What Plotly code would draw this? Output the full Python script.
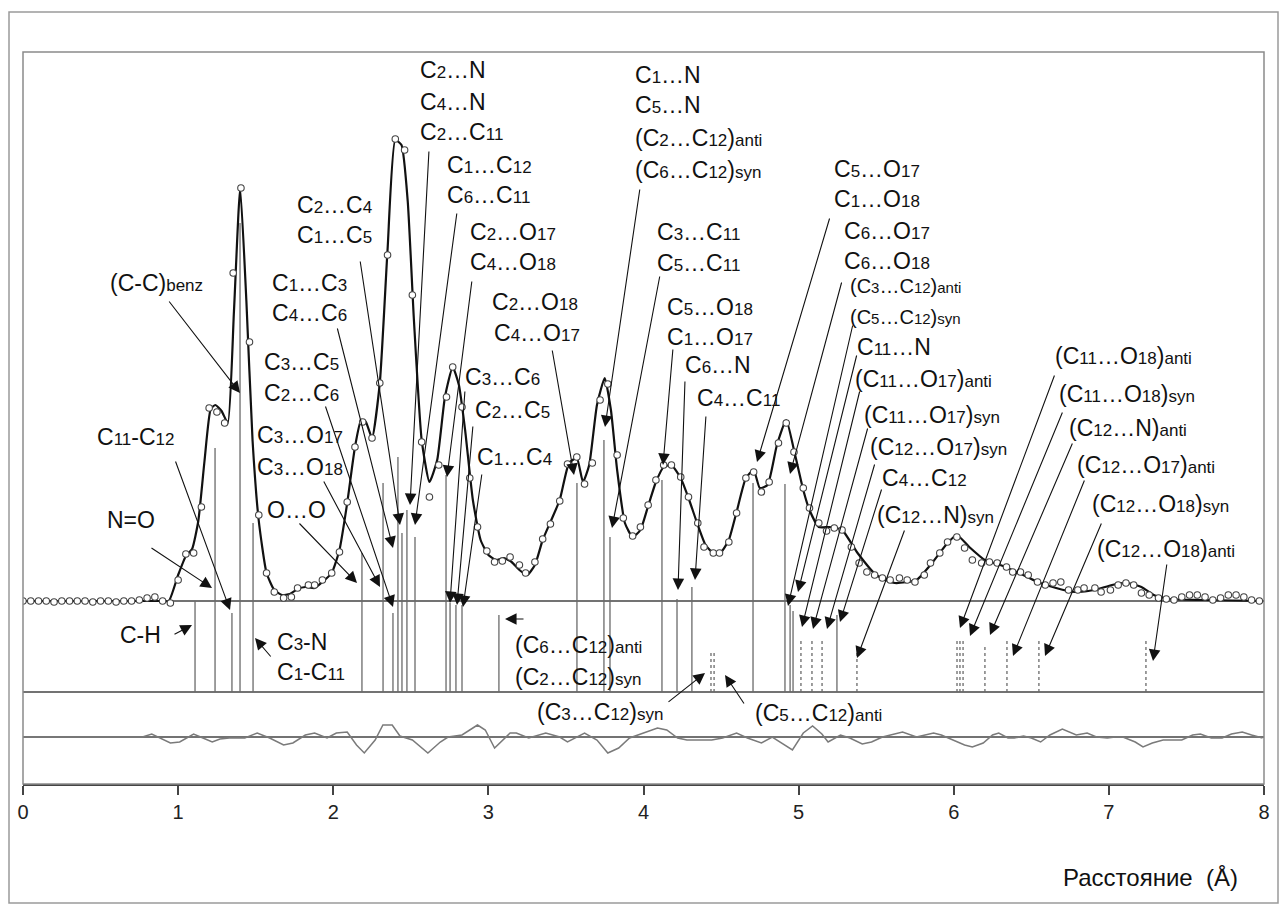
import re
import plotly.graph_objects as go

# ---------------- data ----------------
# experimental points (circles): distance r (Å), intensity (arb. units)
exp_r = [0.00, 0.05, 0.10, 0.15, 0.20, 0.25, 0.30, 0.35, 0.40, 0.45, 0.50, 0.55, 0.60, 0.65, 0.70,
         0.75, 0.80, 0.85, 0.90, 0.95, 1.00, 1.05, 1.10, 1.15, 1.20, 1.25, 1.30, 1.355, 1.405, 1.46,
         1.52, 1.57, 1.62, 1.68, 1.73, 1.77, 1.84, 1.88, 1.93, 1.99, 2.04, 2.09, 2.14, 2.19, 2.25,
         2.30, 2.35, 2.40, 2.46, 2.51, 2.57, 2.62, 2.68, 2.73, 2.77, 2.83, 2.88, 2.93, 2.99, 3.04,
         3.09, 3.14, 3.20, 3.24, 3.30, 3.35, 3.40, 3.46, 3.51, 3.57, 3.62, 3.67, 3.72, 3.77, 3.83,
         3.87, 3.93, 3.98, 4.03, 4.08, 4.13, 4.18, 4.24, 4.29, 4.35, 4.39, 4.45, 4.49, 4.55, 4.60,
         4.66, 4.71, 4.76, 4.81, 4.87, 4.92, 4.97, 5.03, 5.07, 5.13, 5.18, 5.23, 5.28, 5.34, 5.39,
         5.44, 5.49, 5.54, 5.59, 5.65, 5.70, 5.75, 5.81, 5.85, 5.91, 5.96, 6.02, 6.07, 6.12, 6.18,
         6.23, 6.28, 6.34, 6.38, 6.43, 6.48, 6.54, 6.59, 6.64, 6.69, 6.74, 6.80, 6.84, 6.91, 6.95,
         7.01, 7.06, 7.11, 7.16, 7.21, 7.26, 7.32, 7.37, 7.42, 7.47, 7.52, 7.57, 7.62, 7.67, 7.72,
         7.77, 7.82, 7.87, 7.92, 7.97]
exp_g = [0.00, 0.00, 0.00, 0.00, -0.01, 0.00, 0.00, 0.00, 0.00, -0.01, 0.00, 0.00, -0.01, 0.00, 0.00,
         0.01, 0.03, 0.04, 0.00, -0.02, 0.21, 0.47, 0.48, 0.94, 1.93, 1.89, 1.78, 3.28, 4.13, 2.59,
         0.86, 0.28, 0.09, 0.03, 0.04, 0.13, 0.16, 0.16, 0.21, 0.28, 0.49, 0.99, 1.54, 1.79, 1.63,
         2.18, 3.46, 4.62, 4.51, 3.06, 1.59, 1.04, 1.36, 2.04, 2.34, 1.94, 1.23, 0.74, 0.50, 0.39,
         0.40, 0.44, 0.36, 0.28, 0.39, 0.62, 0.77, 1.00, 1.37, 1.44, 1.17, 1.38, 2.01, 2.17, 1.46,
         0.83, 0.65, 0.74, 0.96, 1.21, 1.36, 1.36, 1.24, 1.04, 0.78, 0.54, 0.48, 0.48, 0.59, 0.88,
         1.23, 1.29, 1.09, 1.19, 1.58, 1.78, 1.49, 1.13, 0.93, 0.78, 0.70, 0.73, 0.71, 0.54, 0.38,
         0.29, 0.26, 0.23, 0.21, 0.23, 0.21, 0.19, 0.26, 0.38, 0.48, 0.59, 0.64, 0.53, 0.41, 0.38,
         0.39, 0.38, 0.34, 0.29, 0.29, 0.26, 0.19, 0.16, 0.18, 0.19, 0.11, 0.11, 0.13, 0.13, 0.09,
         0.11, 0.16, 0.18, 0.16, 0.08, 0.06, 0.03, 0.02, 0.01, 0.04, 0.06, 0.06, 0.04, 0.01, 0.03,
         0.06, 0.06, 0.04, 0.01, 0.00]

# model curve (solid line)
fit_r = [0.00, 0.90, 0.94, 1.00, 1.05, 1.09, 1.13, 1.17, 1.21, 1.24, 1.28, 1.32, 1.36, 1.40, 1.44,
         1.48, 1.52, 1.57, 1.62, 1.67, 1.72, 1.77, 1.82, 1.88, 1.93, 1.99, 2.04, 2.09, 2.14, 2.18,
         2.21, 2.25, 2.30, 2.35, 2.40, 2.44, 2.48, 2.52, 2.57, 2.62, 2.67, 2.72, 2.77, 2.81, 2.85,
         2.90, 2.95, 3.00, 3.05, 3.10, 3.15, 3.20, 3.25, 3.30, 3.35, 3.40, 3.46, 3.52, 3.57, 3.61,
         3.65, 3.70, 3.75, 3.79, 3.83, 3.88, 3.93, 3.98, 4.03, 4.08, 4.13, 4.18, 4.24, 4.29, 4.35,
         4.40, 4.45, 4.50, 4.55, 4.60, 4.66, 4.71, 4.75, 4.80, 4.86, 4.92, 4.97, 5.03, 5.07, 5.13,
         5.20, 5.28, 5.38, 5.50, 5.62, 5.76, 5.86, 5.96, 6.02, 6.10, 6.20, 6.30, 6.42, 6.54, 6.66,
         6.78, 6.91, 7.02, 7.12, 7.21, 7.29, 7.39, 7.60, 8.00]
fit_g = [0.00, 0.00, 0.00, 0.26, 0.45, 0.52, 0.80, 1.40, 1.92, 1.96, 1.90, 1.78, 2.90, 4.13, 3.00,
         1.60, 0.80, 0.28, 0.11, 0.06, 0.07, 0.12, 0.14, 0.13, 0.19, 0.28, 0.51, 0.98, 1.54, 1.81,
         1.79, 1.63, 2.18, 3.51, 4.61, 4.56, 4.00, 2.81, 1.61, 1.19, 1.41, 2.04, 2.34, 2.16, 1.71,
         1.01, 0.61, 0.46, 0.41, 0.43, 0.39, 0.31, 0.26, 0.36, 0.61, 0.79, 1.01, 1.38, 1.43, 1.19,
         1.36, 1.96, 2.23, 1.91, 1.31, 0.78, 0.64, 0.71, 0.95, 1.19, 1.34, 1.36, 1.23, 1.03, 0.76,
         0.56, 0.48, 0.49, 0.61, 0.89, 1.23, 1.31, 1.13, 1.16, 1.56, 1.81, 1.51, 1.11, 0.91, 0.74,
         0.74, 0.71, 0.48, 0.26, 0.18, 0.21, 0.38, 0.58, 0.66, 0.54, 0.41, 0.36, 0.28, 0.19, 0.13,
         0.09, 0.11, 0.16, 0.18, 0.14, 0.06, 0.02, 0.01, 0.00]

# residual (exp - model)
res_r = [0.00, 0.77, 0.83, 0.88, 0.95, 1.01, 1.10, 1.16, 1.22, 1.27, 1.33, 1.43, 1.51, 1.59, 1.68,
         1.74, 1.82, 1.88, 1.96, 2.02, 2.09, 2.15, 2.20, 2.27, 2.32, 2.38, 2.43, 2.51, 2.61, 2.69,
         2.74, 2.83, 2.93, 2.98, 3.04, 3.14, 3.18, 3.26, 3.37, 3.46, 3.51, 3.62, 3.70, 3.77, 3.84,
         3.91, 3.98, 4.09, 4.15, 4.22, 4.28, 4.36, 4.44, 4.51, 4.60, 4.67, 4.76, 4.83, 4.89, 4.96,
         5.03, 5.09, 5.15, 5.19, 5.27, 5.33, 5.41, 5.47, 5.54, 5.67, 5.76, 5.87, 5.92, 5.99, 6.07,
         6.12, 6.19, 6.25, 6.29, 6.35, 6.39, 6.45, 6.50, 6.56, 6.62, 6.70, 6.79, 6.86, 6.92, 6.99,
         7.04, 7.09, 7.17, 7.22, 7.28, 7.35, 7.47, 7.54, 7.59, 7.66, 7.73, 7.79, 7.86, 7.92, 7.99]
res_g = [0.00, 0.00, 0.03, -0.01, -0.06, -0.05, 0.03, -0.01, -0.05, -0.02, -0.01, -0.01, 0.04, -0.01, -0.08,
         -0.06, 0.02, 0.04, -0.01, 0.04, 0.05, -0.08, -0.16, -0.03, 0.12, 0.12, 0.01, -0.03, -0.16, -0.05,
         0.00, 0.02, 0.12, 0.07, -0.11, 0.04, 0.04, -0.01, 0.04, 0.00, -0.05, 0.04, -0.03, -0.16, -0.11,
         -0.01, 0.03, 0.09, 0.07, -0.01, -0.03, -0.03, -0.03, -0.01, 0.04, -0.01, -0.06, 0.00, -0.06, -0.13,
         0.04, 0.11, 0.03, -0.05, 0.02, -0.01, -0.07, -0.05, 0.00, 0.05, 0.00, 0.04, 0.02, -0.03, -0.08,
         -0.10, -0.06, 0.02, 0.04, -0.01, -0.01, 0.01, -0.01, -0.05, 0.02, 0.08, 0.02, 0.04, 0.00, -0.01,
         0.00, 0.00, -0.05, -0.10, -0.06, -0.03, -0.03, 0.02, 0.03, -0.01, -0.01, 0.03, 0.05, 0.02, -0.01]

# calculated interatomic distances (solid sticks): position (Å) and height
stick_r = [1.109, 1.238, 1.347, 1.399, 1.483, 2.185, 2.321, 2.385, 2.417, 2.443, 2.475, 2.527,
           2.727, 2.753, 2.791, 2.830, 3.068, 3.571, 3.745, 3.784, 4.119, 4.216, 4.312, 4.706,
           4.912, 4.945, 4.964, 5.247]
stick_h = [0.00, 1.53, -0.12, 3.78, 0.78, 0.48, 1.18, -0.12, 1.44, 0.68, 0.91, 0.64,
           1.26, -0.02, -0.04, -0.04, -0.14, 1.18, 1.61, 0.64, 1.21, 0.02, 0.14, 1.18,
           1.17, -0.04, -0.10, -0.14]
# conformer-dependent distances (dotted sticks)
dot_r = [4.435, 4.455, 5.015, 5.086, 5.151, 5.376, 6.021, 6.040, 6.060, 6.201, 6.343, 6.549, 7.239]
dot_h = [-0.51, -0.51, -0.39, -0.39, -0.39, -0.45, -0.38, -0.38, -0.38, -0.45, -0.38, -0.38, -0.38]

x_ticks = [0, 1, 2, 3, 4, 5, 6, 7, 8]
x_title = "Расстояние  (Å)"

# ---------------- layout helpers ----------------
STICK_BASE = -0.91
RES_BASE = -1.36
W, H = 1288, 913
ML, MR, MT, MB = 23, 24, 52, 129
YMIN, YMAX = -1.83, 5.49
PW, PH = W - ML - MR, H - MT - MB


def X(px):
    return (px - ML) / PW * 8.0


def Y(py):
    return YMAX - (py - MT) / PH * (YMAX - YMIN)


FONT = "Liberation Sans, Arial, sans-serif"


def fmt(s, small=17):
    return re.sub(r'(\d+|anti|syn|benz)',
                  lambda m: '<span style="font-size:%dpx">%s</span>' % (small, m.group(1)), s)


fig = go.Figure()

# sticks
sx, sy = [], []
for r, h in zip(stick_r, stick_h):
    sx += [r, r, None]
    sy += [STICK_BASE, h, None]
fig.add_trace(go.Scatter(x=sx, y=sy, mode="lines", line=dict(color="#6a6a6a", width=1.3),
                         hoverinfo="skip", showlegend=False))
dx, dy = [], []
for r, h in zip(dot_r, dot_h):
    dx += [r, r, None]
    dy += [STICK_BASE, h, None]
fig.add_trace(go.Scatter(x=dx, y=dy, mode="lines", line=dict(color="#6a6a6a", width=1.3, dash="dot"),
                         hoverinfo="skip", showlegend=False))

# residual
fig.add_trace(go.Scatter(x=res_r, y=[RES_BASE + v for v in res_g], mode="lines",
                         line=dict(color="#7a7a7a", width=1.5), showlegend=False))
# model
fig.add_trace(go.Scatter(x=fit_r, y=fit_g, mode="lines", line=dict(color="#111", width=2.2, shape="spline",
                                                                  smoothing=0.5),
                         showlegend=False))
# experiment
fig.add_trace(go.Scatter(x=exp_r, y=exp_g, mode="markers",
                         marker=dict(symbol="circle", size=6.5, color="white",
                                     line=dict(color="#444", width=1.1)),
                         showlegend=False))

shapes = []
for yv in (0.0, STICK_BASE, RES_BASE):
    shapes.append(dict(type="line", xref="x", yref="y", x0=0, x1=8, y0=yv, y1=yv,
                       line=dict(color="#444", width=1.5), layer="below"))
# inner frame
shapes.append(dict(type="rect", xref="paper", yref="paper", x0=0, x1=1, y0=0, y1=1,
                   line=dict(color="#8a8a8a", width=1.5)))
# outer frame
shapes.append(dict(type="rect", xref="paper", yref="paper",
                   x0=(9 - ML) / PW, x1=(1278 - ML) / PW,
                   y0=(MT + PH - 903) / PH, y1=(MT + PH - 12) / PH,
                   line=dict(color="#9a9a9a", width=1.5)))

# labels: text, left px, center py, [size, small size]
labels = [
    ("(C-C)benz", 108, 283), ("C11-C12", 95, 437), ("N=O", 105, 520), ("C-H", 118, 635),
    ("C3-N", 275, 642), ("C1-C11", 275, 672),
    ("C2…C4", 295, 205), ("C1…C5", 295, 235),
    ("C1…C3", 270, 283), ("C4…C6", 270, 313),
    ("C3…C5", 262, 362), ("C2…C6", 262, 393),
    ("C3…O17", 255, 435), ("C3…O18", 255, 467),
    ("O…O", 265, 510),
    ("C2…N", 418, 70), ("C4…N", 418, 102), ("C2…C11", 418, 132),
    ("C1…C12", 445, 165), ("C6…C11", 445, 195),
    ("C2…O17", 468, 232), ("C4…O18", 468, 262),
    ("C2…O18", 490, 302), ("C4…O17", 492, 333),
    ("C3…C6", 463, 377), ("C2…C5", 473, 410), ("C1…C4", 475, 457),
    ("(C6…C12)anti", 513, 645), ("(C2…C12)syn", 513, 677),
    ("(C3…C12)syn", 535, 712), ("(C5…C12)anti", 753, 713),
    ("C1…N", 633, 75), ("C5…N", 633, 105), ("(C2…C12)anti", 633, 138), ("(C6…C12)syn", 633, 170),
    ("C3…C11", 655, 232), ("C5…C11", 655, 263),
    ("C5…O18", 665, 307), ("C1…O17", 665, 337),
    ("C6…N", 683, 365), ("C4…C11", 695, 398),
    ("C5…O17", 832, 169), ("C1…O18", 832, 199),
    ("C6…O17", 842, 231), ("C6…O18", 842, 261),
    ("(C3…C12)anti", 848, 286, 20, 15), ("(C5…C12)syn", 848, 317, 20, 15),
    ("C11…N", 855, 347), ("(C11…O17)anti", 853, 379), ("(C11…O17)syn", 862, 415),
    ("(C12…O17)syn", 868, 447), ("C4…C12", 880, 478), ("(C12…N)syn", 875, 515),
    ("(C11…O18)anti", 1053, 356), ("(C11…O18)syn", 1057, 394), ("(C12…N)anti", 1067, 428),
    ("(C12…O17)anti", 1075, 465), ("(C12…O18)syn", 1090, 504), ("(C12…O18)anti", 1095, 549),
]
arrows = [
    (168, 300, 240, 393), (175, 460, 230, 610), (150, 547, 212, 588), (173, 635, 192, 625),
    (272, 658, 255, 638),
    (360, 260, 400, 525), (337, 327, 393, 548), (325, 405, 393, 607), (323, 480, 380, 587),
    (298, 522, 357, 583),
    (429, 150, 410, 505), (457, 212, 415, 525), (472, 280, 447, 477), (552, 349, 574, 475),
    (465, 390, 450, 603), (473, 425, 457, 605), (482, 473, 463, 607),
    (525, 619, 505, 619),
    (667, 703, 705, 673), (745, 705, 725, 675),
    (640, 188, 605, 427), (660, 275, 612, 528), (673, 348, 663, 465), (685, 380, 678, 590),
    (706, 415, 695, 580),
    (830, 217, 757, 462), (842, 281, 790, 474), (853, 324, 788, 606), (857, 354, 798, 592),
    (860, 390, 802, 627), (868, 427, 813, 629), (875, 463, 827, 629), (882, 488, 840, 622),
    (905, 529, 857, 658),
    (1055, 374, 960, 628), (1063, 411, 970, 636), (1073, 442, 990, 635), (1085, 479, 1013, 656),
    (1102, 522, 1045, 656), (1167, 563, 1153, 661),
]

annotations = []
for item in labels:
    text, px, py = item[0], item[1], item[2]
    size = item[3] if len(item) > 3 else 23
    small = item[4] if len(item) > 4 else 17
    annotations.append(dict(x=X(px), y=Y(py), xref="x", yref="y", text=fmt(text, small),
                            showarrow=False, xanchor="left", yanchor="middle",
                            font=dict(family=FONT, size=size, color="#111")))
for tx, ty, hx, hy in arrows:
    annotations.append(dict(x=X(hx), y=Y(hy), ax=X(tx), ay=Y(ty), xref="x", yref="y",
                            axref="x", ayref="y", text="", showarrow=True, arrowhead=2,
                            arrowsize=2.1, arrowwidth=1.1, arrowcolor="#111", standoff=0,
                            startstandoff=0))
annotations.append(dict(x=(1240 - ML) / PW, y=(MT + PH - 877) / PH, xref="paper", yref="paper",
                        text=x_title, showarrow=False, xanchor="right", yanchor="middle",
                        font=dict(family=FONT, size=24, color="#111")))

fig.update_layout(
    width=W, height=H, autosize=False,
    margin=dict(l=ML, r=MR, t=MT, b=MB, pad=0),
    paper_bgcolor="white", plot_bgcolor="white",
    xaxis=dict(range=[0, 8], tickvals=x_ticks, ticks="outside", ticklen=9, tickwidth=1.5,
               tickcolor="#444", showline=True, linecolor="#444", linewidth=2,
               showgrid=False, zeroline=False,
               tickfont=dict(family=FONT, size=20, color="#222")),
    yaxis=dict(range=[YMIN, YMAX], visible=False, showgrid=False, zeroline=False),
    shapes=shapes, annotations=annotations,
)

fig.write_html("out.html")
